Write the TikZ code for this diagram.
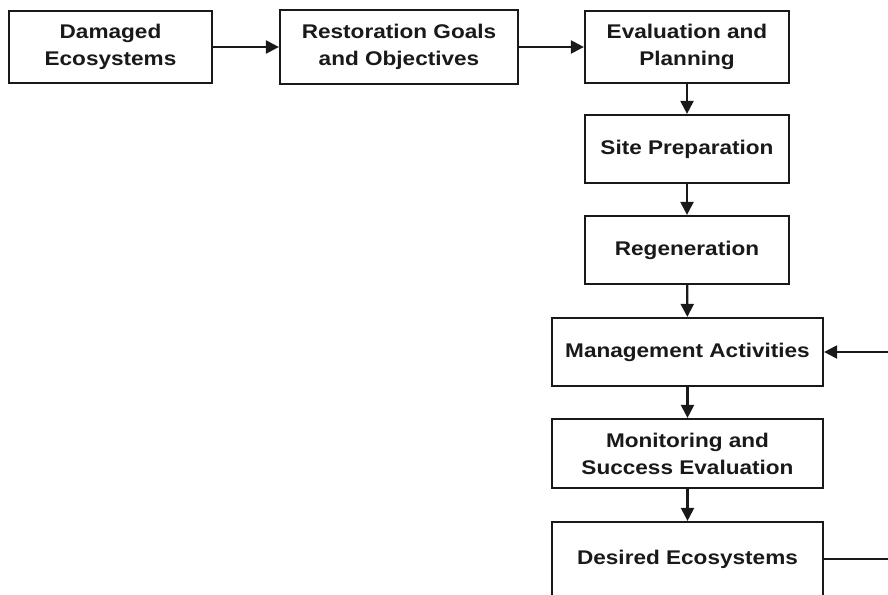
\documentclass[tikz,border=0pt]{standalone}
\usepackage{fontspec}
\setmainfont[FakeStretch=1.14]{Liberation Sans}
\usetikzlibrary{arrows.meta}
\begin{document}
\begin{tikzpicture}[x=1pt,y=-1pt,
  stepbox/.style={draw=black!90,line width=2.2pt,rectangle,align=center,
    inner sep=0pt,font=\fontsize{19.8}{27}\selectfont\bfseries,text=black!90},
  flow/.style={draw=black!90,line width=2.2pt,-{Triangle[length=13pt,width=13pt]}}]
\useasboundingbox (0,0) rectangle (888,594);
\clip (0,0) rectangle (888,594);
\node[stepbox,minimum width=203pt,minimum height=72pt] (b1) at (110.5,47) {Damaged\\Ecosystems};
\node[stepbox,minimum width=238pt,minimum height=74pt] (b2) at (399,47) {Restoration Goals\\and Objectives};
\node[stepbox,minimum width=204pt,minimum height=72pt] (b3) at (687,47) {Evaluation and\\Planning};
\node[stepbox,minimum width=204pt,minimum height=68pt] (b4) at (687,149) {Site Preparation};
\node[stepbox,minimum width=204pt,minimum height=68pt] (b5) at (687,250) {Regeneration};
\node[stepbox,minimum width=271pt,minimum height=68pt] (b6) at (687.5,352) {Management Activities};
\node[stepbox,minimum width=271pt,minimum height=69pt] (b7) at (687.5,453.5) {Monitoring and\\Success Evaluation};
\node[stepbox,minimum width=271pt,minimum height=74pt] (b8) at (687.5,559) {Desired Ecosystems};
\coordinate (f1) at (905,559);
\coordinate (f2) at (905,352);
\draw[flow] (b1) -- (b2);
\draw[flow] (b2) -- (b3);
\draw[flow] (b3) -- (b4);
\draw[flow] (b4) -- (b5);
\draw[flow] (b5) -- (b6);
\draw[flow] (b6) -- (b7);
\draw[flow] (b7) -- (b8);
\draw[flow] (b8.east) -- (f1) -- (f2) -- (b6.east);
\end{tikzpicture}
\end{document}
